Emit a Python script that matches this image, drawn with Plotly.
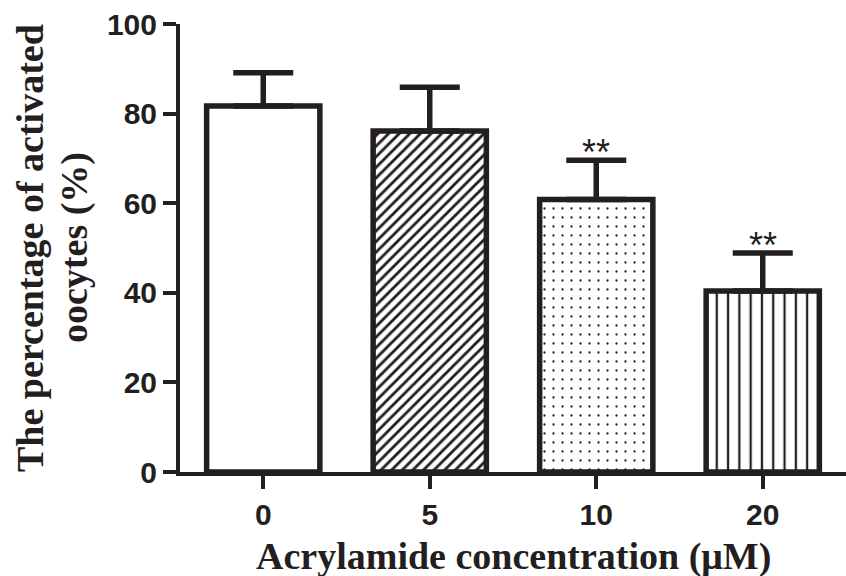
import plotly.graph_objects as go

categories = ["0", "5", "10", "20"]
values = [81.7, 76.1, 60.8, 40.4]
errors = [7.4, 9.8, 8.8, 8.5]
patterns = ["", "/", ".", "|"]
significance = ["", "", "**", "**"]
x_title = "Acrylamide concentration (μM)"
y_title_lines = ["The percentage of activated", "oocytes (%)"]

INK = "#231f20"
TICKFONT = "Liberation Sans, Arial, sans-serif"
TITLEFONT = "Liberation Serif, Times New Roman, serif"

fig = go.Figure()
fig.add_trace(go.Bar(
    x=categories, y=values,
    width=0.68,
    marker=dict(
        color="white",
        line=dict(color=INK, width=5.5),
        pattern=dict(
            shape=patterns,
            fgcolor=INK,
            fgopacity=1,
            bgcolor="white",
            size=[8, 7.5, 9, 11.3],
            solidity=[0.3, 0.38, 0.05, 0.2],
            fillmode="replace",
        ),
    ),
    error_y=dict(type="data", array=errors, visible=True, symmetric=False,
                 arrayminus=[0, 0, 0, 0],
                 color=INK, thickness=5.5, width=30),
    showlegend=False,
))

for i, (v, e, s) in enumerate(zip(values, errors, significance)):
    if s:
        fig.add_annotation(x=i, y=v + e, text=s, showarrow=False,
                           xref="x", yref="y",
                           yanchor="bottom", yshift=-15,
                           font=dict(family=TICKFONT, size=36, color=INK))

# Axis titles (placed as paper annotations for exact positioning)
fig.add_annotation(xref="paper", yref="paper", x=0.5, y=0,
                   text=x_title, showarrow=False,
                   xanchor="center", yanchor="middle", yshift=-84,
                   font=dict(family=TITLEFONT, size=38, color=INK, weight="bold"))
for line, xs in zip(y_title_lines, [-150, -106]):
    fig.add_annotation(xref="paper", yref="paper", x=0, y=0.5,
                       text=line, showarrow=False,
                       textangle=-90, xanchor="center", yanchor="middle", xshift=xs,
                       font=dict(family=TITLEFONT, size=38, color=INK, weight="bold"))

fig.update_layout(
    width=846, height=576,
    margin=dict(l=180, r=0, t=24, b=104),
    plot_bgcolor="white", paper_bgcolor="white",
)
fig.update_xaxes(
    type="category", range=[-0.5, 3.5], automargin=False,
    showline=True, linecolor=INK, linewidth=4,
    ticks="outside", tickcolor=INK, tickwidth=4, ticklen=13,
    tickfont=dict(family=TICKFONT, size=30, color=INK, weight="bold"),
    showgrid=False, zeroline=False,
)
fig.update_yaxes(
    range=[0, 100], tickvals=[0, 20, 40, 60, 80, 100], automargin=False,
    showline=True, linecolor=INK, linewidth=4,
    ticks="outside", tickcolor=INK, tickwidth=4, ticklen=13,
    tickfont=dict(family=TICKFONT, size=30, color=INK, weight="bold"),
    showgrid=False, zeroline=False,
)

fig.write_html("out.html", config={"displayModeBar": False},
               post_script="document.body.style.margin='0';document.body.style.overflow='hidden';")
